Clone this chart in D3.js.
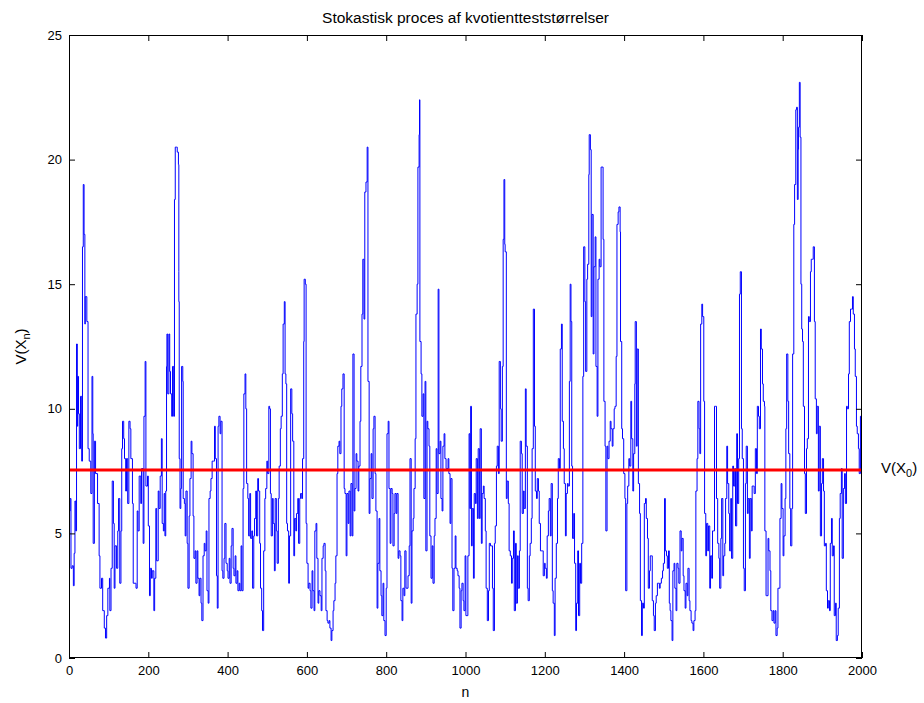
<!DOCTYPE html>
<html>
<head>
<meta charset="utf-8">
<script src="https://cdn.jsdelivr.net/npm/d3@7"></script>
<style>
  html, body { margin: 0; padding: 0; background: #fff; }
  svg { display: block; }
  text { font-family: "Liberation Sans", Arial, Helvetica, sans-serif; fill: #000; }
</style>
</head>
<body>
<svg id="chart" width="924" height="703"></svg>
<script>
// Likelihood-ratio statistic V(X_n) along the chain, as [n, V] pairs
const walk = [
  [1,5.9],[3,6.4],[5,3.6],[8,3.7],[11,2.9],[13,4.2],[15,6.3],[17,5.1],[19,12.6],[21,9.3],[22,11.3],[24,9.8],
  [26,8.4],[29,10.5],[32,7.9],[34,16.5],[36,19],[38,17],[40,13.4],[41,14.5],[45,13.5],[48,8.4],[51,7.9],[55,6.6],
  [58,11.3],[60,9],[61,4.6],[64,8.7],[67,7.4],[72,6.2],[76,4.1],[78,2.8],[82,3.2],[85,1.9],[89,1.2],[92,0.8],
  [95,1.7],[98,2.8],[102,3.2],[103,1.9],[106,3.6],[109,7.1],[112,5.4],[114,2.8],[116,4.5],[120,3.6],[123,5.1],
  [125,6.4],[128,3],[131,5.1],[133,8.4],[135,9.5],[138,8.8],[140,8],[143,6.7],[145,8],[148,6.2],[151,9.5],
  [154,9.2],[156,8],[160,6.2],[162,3],[167,3],[169,2.8],[172,5.9],[174,5.1],[177,7.3],[181,6.2],[183,7.6],
  [187,4.6],[189,9.7],[192,11.9],[194,6.9],[198,7.3],[200,5.3],[203,2.5],[205,3.6],[208,3.2],[210,3.5],
  [214,1.9],[216,3.2],[219,6],[221,3.9],[225,6.7],[227,6],[230,7.3],[233,8.8],[235,5.4],[238,5.1],[240,6.6],
  [242,4.9],[244,6.7],[246,11.7],[247,13],[249,10.6],[252,13],[254,11.5],[256,10.6],[259,9.7],[261,11.7],
  [264,9.7],[266,18.4],[268,20.5],[271,20.5],[273,20.3],[276,19.8],[277,15.5],[277,14.3],[278,8],[280,6],
  [282,6.8],[284,11.7],[287,11.1],[288,6.4],[291,6.2],[293,4.9],[295,6.7],[298,4.6],[300,2.8],[303,5.7],
  [305,7.2],[308,8.7],[310,8.2],[313,5.7],[315,4],[318,4.3],[320,3],[323,4.3],[325,3.2],[328,2.5],[330,3.2],
  [333,2.2],[335,1.5],[338,4.1],[341,4.6],[343,4.3],[346,5.1],[348,2.7],[351,2.2],[353,6.4],[356,6.7],
  [358,7.2],[361,7.9],[364,7.9],[367,9.3],[369,8],[372,3.3],[374,2],[376,9.3],[378,9.7],[381,9],[383,9.5],
  [386,3.5],[388,3.2],[391,4],[393,5.4],[396,3.8],[399,3.5],[401,3.2],[404,4],[406,3],[409,4.5],[411,5.2],
  [414,3.6],[416,3.3],[419,4.1],[421,3],[424,3.5],[426,2.7],[429,3],[431,2.7],[434,4.5],[436,2.7],[439,6.8],
  [441,10.6],[444,11.4],[446,10],[448,7],[451,6.4],[453,4.9],[456,6.6],[458,4.8],[461,5.1],[463,2.8],
  [466,4.9],[468,5.6],[471,6.7],[473,4.9],[476,7.2],[478,6.7],[481,4.6],[483,2.8],[486,1.9],[488,1.1],
  [491,4.3],[494,6.4],[496,6.8],[499,7.9],[501,7.4],[504,10.1],[506,10],
  [508,6.6],[510,4.9],[513,6.4],[515,5.4],[518,3.5],[520,6.4],[523,5.1],[525,3.8],[528,6.4],[530,7.7],
  [533,9.2],[535,9.7],[538,11.4],[540,13.4],[543,14.3],[545,11.4],[547,11],[549,5.4],[551,5.1],[554,3],
  [556,4.9],[559,10.8],[562,9.8],[564,8.7],[567,4.1],[569,5.6],[572,5.1],[574,5.8],[577,6.4],[579,4.6],
  [582,6.4],[584,6.6],[587,6.4],[589,8],[592,12.7],[593,15.2],[596,15],[598,5.4],[600,3.8],[603,2.8],
  [605,3],[608,2.7],[610,2],[613,3.5],[615,2.7],[618,1.9],[620,5.1],[623,5.4],[625,4],[628,2.2],[630,2.7],
  [633,2.5],[636,1.9],[638,4],[641,4.5],[643,4.6],[646,3.5],[648,1.9],[651,1.5],[653,1.4],[656,1.5],
  [658,1.2],[661,0.7],[663,1.1],[666,1.9],[668,2.3],[671,3],[673,4.1],[676,7.4],[678,8.5],[681,8.7],
  [683,8.2],[686,10.1],[688,10.8],[691,11.4],[694,6.8],[696,6.6],[699,4.1],[701,6.6],[704,5.4],[706,6.7],
  [709,4.9],[711,7],[714,4.9],[716,12.2],[719,5.9],[721,6.8],[724,8.2],[726,7.9],[729,6.7],[731,7.7],
  [734,9.5],[736,11.7],[739,13.8],[741,16],[744,13.6],[746,18.7],[749,19.1],[752,20.5],[754,11.1],
  [757,5.8],[759,7.2],
  [762,8.2],[764,6.4],[767,9.2],[769,9.7],[772,7.4],[774,5.9],[777,2],[779,3.8],[782,5.6],[784,3.5],
  [787,2.5],[789,1.7],[792,3],[794,1.5],[797,0.9],[800,2.8],[802,9],[805,9.5],[807,6.8],[810,4.6],
  [812,6.8],[815,6.6],[817,4.5],[820,5.8],[822,6.6],[825,5.8],[827,6.6],[830,4],[832,4.3],[835,4.1],
  [837,2.3],[840,1.5],[842,2.8],[845,2.5],[847,4.3],[850,2.8],[852,2.8],[855,3.3],[858,4.5],[860,8],
  [863,2.2],[865,5.1],[868,5.6],[870,6.8],[873,8.8],[875,13.8],[878,15],[880,19.7],[883,21],[884,22.4],
  [885,12.7],[888,11.4],[890,9.7],[893,10.6],[895,6.4],[898,11.1],[900,4.3],[903,9.5],[905,9.2],[908,8.5],
  [910,4.9],[913,3.2],[916,4.5],[918,3],[921,4.9],[923,5.6],[926,8.4],[928,6.6],[931,14.8],[933,8.2],
  [936,8.7],[938,6.4],[941,5.9],[943,8.5],[946,9],[948,8],[951,7.6],[953,7.6],[956,8],[958,7.4],[961,5.4],
  [963,7.2],[966,3.6],[968,1.9],[971,3.6],[974,4.9],[976,3.6],[979,3.5],[981,3.3],[984,2.8],[986,1.2],
  [989,2.7],[991,3],[994,2.3],[996,1.9],[999,4.1],[1001,1.7],[1004,1.7],[1006,4.1],[1009,9],[1011,6],
  [1013,10.1],[1015,4.5],[1017,6],[1020,3.2],[1022,6.6],[1025,6.2],[1027,8],[1030,5.6],[1032,8.4],
  [1035,5.6],[1037,9.2],[1040,4.6],[1042,6.6],[1045,6.9],[1047,6.4],[1050,5.1],[1052,2.8],[1055,1.5],
  [1058,2.7],[1060,4.6],[1063,4.5],[1065,4.5],[1068,2.8],[1070,1.1],[1073,4.6],[1075,5.3],[1078,7.7],
  [1080,8.5],[1083,7.4],[1085,11.9],[1088,10],[1090,8.7],[1093,11.7],[1095,16.8],[1097,19.2],[1099,16.6],
  [1100,16.3],[1103,6.4],[1105,7.1],[1108,6.2],[1110,4.3],[1113,4.1],[1116,3],[1118,4],[1121,5.1],
  [1123,1.9],[1126,4.6],[1128,2.2],[1131,4.1],[1133,2.8],[1136,4.3],[1138,8.7],[1141,8.2],[1143,5.8],
  [1146,6.7],[1148,6],[1151,10.8],[1153,8.5],[1156,2.8],[1158,2.3],[1161,4.1],[1163,4.6],[1166,5.6],
  [1168,8.4],[1171,14],[1174,9.3],[1176,6.7],[1179,6.4],[1181,7.2],[1184,6.7],[1186,5.4],[1189,4.3],
  [1191,4.3],[1194,4.3],[1196,3.3],[1199,3.8],[1201,3.6],[1204,3.2],[1206,4.9],[1209,5.9],[1211,6.4],
  [1214,4.9],[1216,7],[1219,2.7],[1221,2.2],[1224,0.9],[1226,3.2],[1229,4.6],[1232,6.4],[1234,8],
  [1237,7.6],[1239,12.4],[1242,13.4],[1244,9.5],[1247,8.4],[1249,7],[1252,4.9],[1254,6.6],[1257,7],
  [1259,6.9],[1262,11.1],
  [1264,15],[1266,13.5],[1268,7.7],[1270,4.8],[1273,5.8],[1275,3.8],[1278,1.1],[1280,2.2],[1283,4.3],
  [1285,1.7],[1288,3.8],[1290,3],[1293,4.6],[1296,11.3],[1298,16.5],[1301,14.3],[1303,11.5],[1306,15.2],
  [1308,15.8],[1311,19.4],[1312,21],[1315,20.4],[1317,13.7],[1319,17.8],[1322,12.2],[1324,15.7],
  [1327,16.9],[1329,11.7],[1332,9.7],[1334,15.2],[1337,16],[1339,15.7],[1342,19.7],[1344,19.7],[1347,16.8],
  [1349,10.3],[1352,8.5],[1354,5.1],[1357,8.5],[1359,8],[1362,8.7],[1365,9.5],[1367,9.2],[1370,8.5],
  [1372,9.2],[1375,10],[1377,10.1],[1380,12.1],[1382,17.4],[1385,17.9],[1387,18.1],[1390,17.1],[1391,12.7],
  [1394,9.2],[1396,8.8],[1399,7.4],[1402,6.4],[1404,2.7],[1407,6.2],[1409,6.9],[1412,8],[1414,7.7],
  [1417,10.3],[1419,8.8],[1422,6.7],[1424,8.2],[1427,11],[1428,13.5],[1431,8.5],[1433,12.4],[1436,7],
  [1439,5.8],[1441,2.3],[1444,0.9],[1446,2.2],[1449,2],[1451,6.2],[1454,6.4],[1456,5.6],[1459,4.8],
  [1461,2.8],[1464,3.5],[1466,4.1],[1469,4.1],[1471,2.3],[1474,1.7],[1476,1.1],[1479,2.2],[1481,2.5],
  [1484,3],[1486,3],[1489,2.8],[1491,3],[1494,3.2],[1497,3.5],[1499,3.8],[1502,6.4],[1504,4.3],[1507,4.1],
  [1509,3.6],[1512,4.3],[1514,2.2],
  [1516,1.9],[1518,1.5],[1521,0.7],[1523,3.5],[1526,3.8],[1528,2.8],[1531,1.9],[1533,3.8],[1536,3.6],
  [1538,3],[1541,5.1],[1544,4.3],[1546,4.8],[1549,3.3],[1551,2.7],[1554,2],[1556,3],[1559,2.5],[1561,3.6],
  [1564,2.3],[1566,1.9],[1569,1.5],[1571,1.4],[1574,1.1],[1576,1.5],[1579,1.9],[1581,6.7],[1584,8],
  [1586,10.3],[1589,9.2],[1591,8.2],[1593,13.4],[1596,14.2],[1598,13.7],[1601,10.3],[1603,5.8],[1606,4.1],
  [1608,5.4],[1611,4.3],[1613,5.3],[1616,2.8],[1618,4.1],[1621,3.2],[1623,5.1],[1626,5.1],[1628,10.1],
  [1631,10.1],[1633,6.4],[1636,4.6],[1639,4],[1641,2.8],[1644,4.8],[1646,6.4],[1649,3.3],[1651,4.1],
  [1654,4.6],[1656,6.4],[1659,8.5],[1661,7],[1664,5.8],[1666,4.3],[1669,6.4],[1671,4],[1674,7.7],
  [1676,6.9],[1679,7.6],[1681,5.3],[1684,9],[1686,6.2],[1689,8],[1691,14.6],[1693,15.5],[1696,9.2],
  [1698,8],[1701,3.6],[1703,2.7],[1706,7],[1708,8.5],[1711,5.8],[1713,6.4],[1716,4],[1718,6.4],[1721,5.1],
  [1723,6.9],[1726,6.9],[1728,6.6],[1731,8.4],[1734,7.4],[1736,10.1],[1739,9.7],[1741,9.2],[1744,13.2],
  [1746,12.4],[1749,11],[1751,10.3],[1754,10.1],[1755,5.1],[1758,2.5],[1760,2.5],[1763,4.8],[1765,4.3],
  [1768,3.5],
  [1770,1.9],[1773,1.5],[1776,1.9],[1778,1.4],[1781,1.9],[1783,0.9],[1786,1.2],[1788,2.8],[1791,2.8],
  [1793,5.6],[1796,7],[1798,6],[1801,4.1],[1803,4.9],[1806,6.4],[1808,9.2],[1810,12.2],[1813,10.3],
  [1815,8.2],[1818,6],[1820,4.5],[1823,6],[1825,12.2],[1828,17.4],[1830,19],[1833,22],[1835,22.1],
  [1837,18.4],[1839,20.4],[1840,21.3],[1842,23.1],[1844,20.9],[1846,15],[1848,13.2],[1850,12.7],
  [1852,10.1],[1855,7.4],[1857,5.8],[1860,8.4],[1862,8.8],[1865,13.7],[1867,13.5],[1870,15.5],[1872,16],
  [1875,16],[1877,16.5],[1880,13.5],[1882,10.4],[1885,9],[1887,10.1],[1890,6.7],[1892,9.3],[1895,4.9],
  [1898,7],[1900,8],[1903,6.7],[1905,4.5],[1908,4.6],[1910,2.7],[1913,2],[1915,2.3],[1918,1.9],[1920,4.6],
  [1923,5.6],[1925,4.1],[1928,4.5],[1930,1.7],[1933,2.2],[1935,0.7],[1938,0.9],[1940,2],[1943,5.6],
  [1945,6.6],[1948,7.6],[1950,4],[1953,6.8],[1956,7.4],[1958,6.2],[1961,10.1],[1963,10],[1966,11.4],
  [1968,13.5],[1971,14],[1973,14],[1976,14.5],[1978,13.8],[1981,12.4],[1983,11.3],[1986,9.3],[1988,9],
  [1991,8.4],[1993,7.4],[1996,9.7],[1998,7.6],[2000,7.4]
];

// Observed statistic V(X_0)
const refLevel = 7.54;

const xTicks = [0, 200, 400, 600, 800, 1000, 1200, 1400, 1600, 1800, 2000];
const yTicks = [0, 5, 10, 15, 20, 25];

const titleText = "Stokastisk proces af kvotientteststørrelser";

const svg = d3.select("#chart");
const margin = { left: 69, right: 62, top: 35, bottom: 45 };
const W = 924, H = 703;
const iw = W - margin.left - margin.right;
const ih = H - margin.top - margin.bottom;

const x = d3.scaleLinear().domain([0, 2000]).range([margin.left, margin.left + iw]);
const y = d3.scaleLinear().domain([0, 25]).range([margin.top + ih, margin.top]);

// clip so the trace never spills over the frame
svg.append("defs").append("clipPath").attr("id", "plotClip")
  .append("rect").attr("x", margin.left).attr("y", margin.top).attr("width", iw).attr("height", ih);

// trace, drawn as a staircase (the chain holds its state between jumps)
const line = d3.line().curve(d3.curveStepAfter).x(d => x(d[0])).y(d => y(d[1]));
svg.append("path")
  .datum(walk)
  .attr("clip-path", "url(#plotClip)")
  .attr("fill", "none")
  .attr("stroke", "#0000ff")
  .attr("stroke-width", 1)
  .attr("d", line);

// reference level
svg.append("line")
  .attr("x1", x(0)).attr("x2", x(2000))
  .attr("y1", y(refLevel)).attr("y2", y(refLevel))
  .attr("stroke", "#ff0000")
  .attr("stroke-width", 3);

// axes with inward ticks on all four sides
const fontSize = "13px";
function styleAxis(g) {
  g.select(".domain").remove();
  g.selectAll(".tick line").attr("stroke", "#000");
  g.selectAll("text").style("font-size", fontSize).attr("fill", "#000");
}

svg.append("g")
  .attr("transform", `translate(0,${margin.top + ih})`)
  .call(d3.axisBottom(x).tickValues(xTicks).tickFormat(d3.format("d")).tickSize(-6).tickPadding(8))
  .call(styleAxis);

svg.append("g")
  .attr("transform", `translate(0,${margin.top})`)
  .call(d3.axisTop(x).tickValues(xTicks).tickFormat("").tickSize(-6))
  .call(styleAxis);

svg.append("g")
  .attr("transform", `translate(${margin.left},0)`)
  .call(d3.axisLeft(y).tickValues(yTicks).tickFormat(d3.format("d")).tickSize(-6).tickPadding(7))
  .call(styleAxis);

svg.append("g")
  .attr("transform", `translate(${margin.left + iw},0)`)
  .call(d3.axisRight(y).tickValues(yTicks).tickFormat("").tickSize(-6))
  .call(styleAxis);

// frame
svg.append("rect")
  .attr("x", margin.left + 0.5).attr("y", margin.top + 0.5)
  .attr("width", iw - 1).attr("height", ih - 1)
  .attr("fill", "none").attr("stroke", "#000").attr("stroke-width", 1);

// title
svg.append("text")
  .attr("x", margin.left + iw / 2).attr("y", 23)
  .attr("text-anchor", "middle")
  .style("font-size", "15.5px")
  .text(titleText);

// x label
svg.append("text")
  .attr("x", margin.left + iw / 2).attr("y", 697)
  .attr("text-anchor", "middle")
  .style("font-size", "14px")
  .text("n");

// y label V(X_n)
const yl = svg.append("text")
  .attr("transform", `translate(26,${margin.top + ih / 2}) rotate(-90)`)
  .attr("text-anchor", "middle")
  .style("font-size", "15px");
yl.append("tspan").text("V(X");
yl.append("tspan").attr("dy", 4).style("font-size", "11px").text("n");
yl.append("tspan").attr("dy", -4).text(")");

// reference label V(X_0)
const rl = svg.append("text")
  .attr("x", 881).attr("y", y(refLevel) + 3)
  .style("font-size", "15px");
rl.append("tspan").text("V(X");
rl.append("tspan").attr("dy", 4).style("font-size", "11px").text("0");
rl.append("tspan").attr("dy", -4).text(")");
</script>
</body>
</html>
